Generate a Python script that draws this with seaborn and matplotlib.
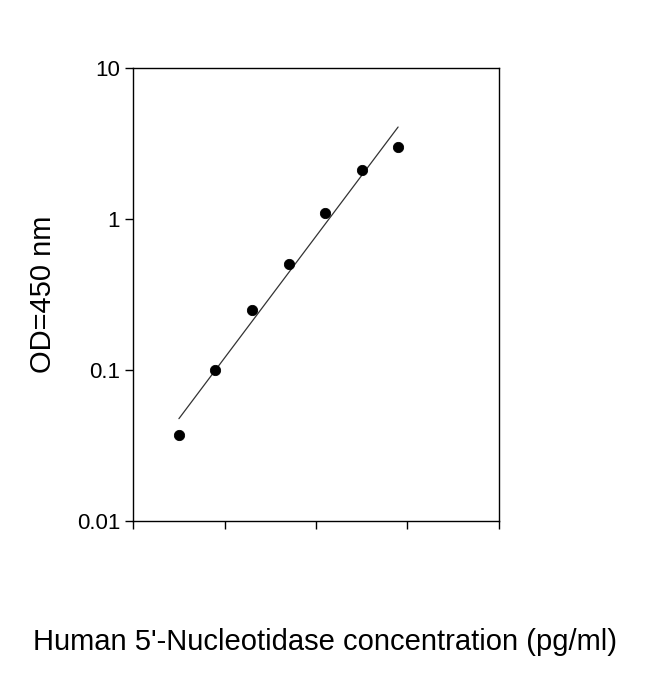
import numpy as np
import matplotlib
matplotlib.use("Agg")
import matplotlib.pyplot as plt
import seaborn as sns

sns.set_theme(style="white")
plt.rcParams['font.family'] = ['Liberation Sans', 'DejaVu Sans']

# data (x in tick units, y = OD)
conc = [0.5, 0.9, 1.3, 1.7, 2.1, 2.5, 2.9]
od = [0.037, 0.10, 0.25, 0.50, 1.10, 2.10, 3.00]
y_ticks = [0.01, 0.1, 1, 10]
y_labels = ['0.01', '0.1', '1', '10']

fig = plt.figure(figsize=(6.5, 6.74), dpi=100)
ax = fig.add_axes([0.205, 0.227, 0.562, 0.672])

# log-linear fit line
k, b = np.polyfit(conc, np.log10(od), 1)
xs = np.array([conc[0], conc[-1]])
ax.plot(xs, 10 ** (k * xs + b), color='#333333', lw=0.9)
sns.scatterplot(x=conc, y=od, ax=ax, color='black', s=55, edgecolor='black', zorder=3)

ax.set_yscale('log')
ax.set_ylim(0.01, 10)
ax.set_xlim(0, 4)
ax.set_xticks([0, 1, 2, 3, 4])
ax.set_xticklabels([])
ax.set_yticks(y_ticks)
ax.set_yticklabels(y_labels, fontsize=16, color='black')
ax.minorticks_off()
ax.tick_params(axis='both', direction='out', length=6, width=1, color='black',
               bottom=True, left=True)
for s in ax.spines.values():
    s.set_color('black')
    s.set_linewidth(1)

ax.set_ylabel('OD=450 nm', fontsize=21, labelpad=14, color='black')
fig.text(0.5, 0.035, "Human 5'-Nucleotidase concentration (pg/ml)", fontsize=21,
         ha='center', color='black')

fig.savefig('out.png', dpi=100)
